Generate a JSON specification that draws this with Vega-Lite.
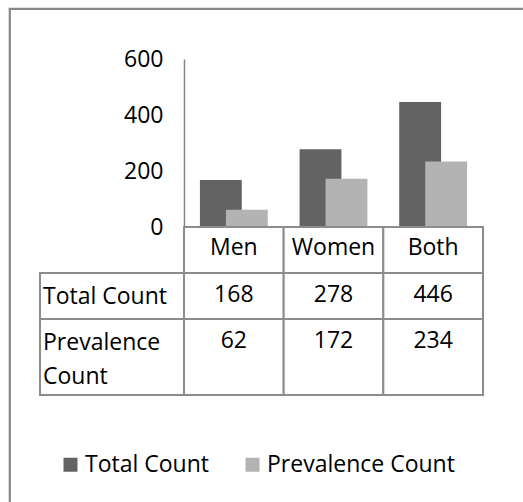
{
  "$schema": "https://vega.github.io/schema/vega-lite/v6.json",
  "padding": {"left": 8, "top": 7, "right": 0, "bottom": 0},
  "background": "white",
  "config": {"view": {"stroke": null}, "font": "Open Sans"},
  "datasets": {
    "counts": [
      {"cat": "Men", "series": "Total Count", "value": 168},
      {"cat": "Women", "series": "Total Count", "value": 278},
      {"cat": "Both", "series": "Total Count", "value": 446},
      {"cat": "Men", "series": "Prevalence Count", "value": 62},
      {"cat": "Women", "series": "Prevalence Count", "value": 172},
      {"cat": "Both", "series": "Prevalence Count", "value": 234}
    ],
    "rows": [{"series": "Total Count"}, {"series": "Prevalence Count"}],
    "empty": []
  },
  "bounds": "flush",
  "spacing": 0,
  "align": "each",
  "vconcat": [
    {
      "width": 513, "height": 1,
      "data": {"name": "empty"},
      "mark": {"type": "text", "text": ""},
      "encoding": {},
      "view": {"stroke": "#888888", "strokeWidth": 1.2}
    },
    {
      "spacing": 30,
      "bounds": "flush",
      "align": "each",
      "hconcat": [
        {
          "width": 1, "height": 492,
          "data": {"name": "empty"},
          "mark": {"type": "text", "text": ""},
          "encoding": {},
          "view": {"stroke": "#888888", "strokeWidth": 1.2}
        },
        {
          "columns": 2,
          "spacing": 0,
          "bounds": "flush",
          "align": "each",
          "concat": [
            {"width": 144, "height": 50, "data": {"name": "empty"}, "mark": {"type": "text", "text": ""}, "encoding": {}},
            {"width": 299, "height": 50, "data": {"name": "empty"}, "mark": {"type": "text", "text": ""}, "encoding": {}},
            {"width": 144, "height": 168, "data": {"name": "empty"}, "mark": {"type": "text", "text": ""}, "encoding": {}},
            {
              "width": 299, "height": 168,
              "data": {"name": "counts"},
              "encoding": {
                "x": {"field": "cat", "type": "nominal", "scale": {"domain": ["Men", "Women", "Both"], "paddingInner": 0, "paddingOuter": 0}, "axis": null},
                "y": {"field": "value", "type": "quantitative", "scale": {"domain": [0, 600], "nice": false},
                  "axis": {"title": null, "values": [0, 200, 400, 600], "grid": false, "ticks": false, "labelPadding": 21, "labelFontSize": 23, "labelFont": "Open Sans", "labelColor": "#000000", "domainColor": "#868686", "domainWidth": 1.5}},
                "color": {"field": "series", "type": "nominal",
                  "scale": {"domain": ["Total Count", "Prevalence Count"], "range": ["#636363", "#b3b3b3"]},
                  "legend": {"orient": "none", "legendX": 50, "legendY": 445, "direction": "horizontal", "title": null, "symbolType": "square", "symbolSize": 196, "symbolStrokeWidth": 0, "symbolOpacity": 1, "labelFontSize": 23, "labelFont": "Open Sans", "labelColor": "#000000", "labelOffset": 3, "columnPadding": 32, "labelLimit": 400}}
              },
              "layer": [
                {"transform": [{"filter": "datum.series === 'Total Count'"}], "mark": {"type": "bar", "width": {"band": 0.42}, "xOffset": -13}},
                {"transform": [{"filter": "datum.series === 'Prevalence Count'"}], "mark": {"type": "bar", "width": {"band": 0.42}, "xOffset": 13}}
              ]
            },
            {"width": 144, "height": 46, "data": {"name": "empty"}, "mark": {"type": "text", "text": ""}, "encoding": {}},
            {
              "width": 299, "height": 46,
              "data": {"name": "counts"},
              "transform": [{"filter": "datum.series === 'Total Count'"}],
              "encoding": {
                "x": {"field": "cat", "type": "nominal", "scale": {"domain": ["Men", "Women", "Both"], "paddingInner": 0, "paddingOuter": 0}, "axis": null},
                "y": {"field": "series", "type": "nominal", "axis": null, "scale": {"paddingInner": 0, "paddingOuter": 0}}
              },
              "layer": [
                {"mark": {"type": "rect", "fill": "#ffffff", "stroke": "#8c8c8c", "strokeWidth": 2}},
                {"mark": {"type": "text", "fontSize": 23, "font": "Open Sans", "color": "#000000", "dy": -2}, "encoding": {"text": {"field": "cat"}}}
              ]
            },
            {
              "width": 144, "height": 46,
              "data": {"name": "rows"},
              "transform": [{"filter": "datum.series === 'Total Count'"}],
              "view": {"stroke": "#8c8c8c", "strokeWidth": 2},
              "mark": {"type": "text", "align": "left", "dx": -69, "dy": 1, "fontSize": 23, "font": "Open Sans", "color": "#000000"},
              "encoding": {
                "y": {"field": "series", "type": "nominal", "axis": null, "scale": {"paddingInner": 0, "paddingOuter": 0}},
                "text": {"field": "series"}
              }
            },
            {
              "width": 299, "height": 46,
              "data": {"name": "counts"},
              "transform": [{"filter": "datum.series === 'Total Count'"}],
              "encoding": {
                "x": {"field": "cat", "type": "nominal", "scale": {"domain": ["Men", "Women", "Both"], "paddingInner": 0, "paddingOuter": 0}, "axis": null},
                "y": {"field": "series", "type": "nominal", "axis": null, "scale": {"paddingInner": 0, "paddingOuter": 0}}
              },
              "layer": [
                {"mark": {"type": "rect", "fill": "#ffffff", "stroke": "#8c8c8c", "strokeWidth": 2}},
                {"mark": {"type": "text", "fontSize": 23, "font": "Open Sans", "color": "#000000", "dy": -1}, "encoding": {"text": {"field": "value"}}}
              ]
            },
            {
              "width": 144, "height": 76,
              "data": {"name": "rows"},
              "transform": [{"filter": "datum.series === 'Prevalence Count'"}],
              "view": {"stroke": "#8c8c8c", "strokeWidth": 2},
              "mark": {"type": "text", "align": "left", "dx": -69, "dy": -14, "fontSize": 23, "font": "Open Sans", "color": "#000000", "lineBreak": " ", "lineHeight": 34},
              "encoding": {
                "y": {"field": "series", "type": "nominal", "axis": null, "scale": {"paddingInner": 0, "paddingOuter": 0}},
                "text": {"field": "series"}
              }
            },
            {
              "width": 299, "height": 76,
              "data": {"name": "counts"},
              "transform": [{"filter": "datum.series === 'Prevalence Count'"}],
              "encoding": {
                "x": {"field": "cat", "type": "nominal", "scale": {"domain": ["Men", "Women", "Both"], "paddingInner": 0, "paddingOuter": 0}, "axis": null},
                "y": {"field": "series", "type": "nominal", "axis": null, "scale": {"paddingInner": 0, "paddingOuter": 0}}
              },
              "layer": [
                {"mark": {"type": "rect", "fill": "#ffffff", "stroke": "#8c8c8c", "strokeWidth": 2}},
                {"mark": {"type": "text", "fontSize": 23, "font": "Open Sans", "color": "#000000", "dy": -16}, "encoding": {"text": {"field": "value"}}}
              ]
            }
          ]
        }
      ]
    }
  ]
}
